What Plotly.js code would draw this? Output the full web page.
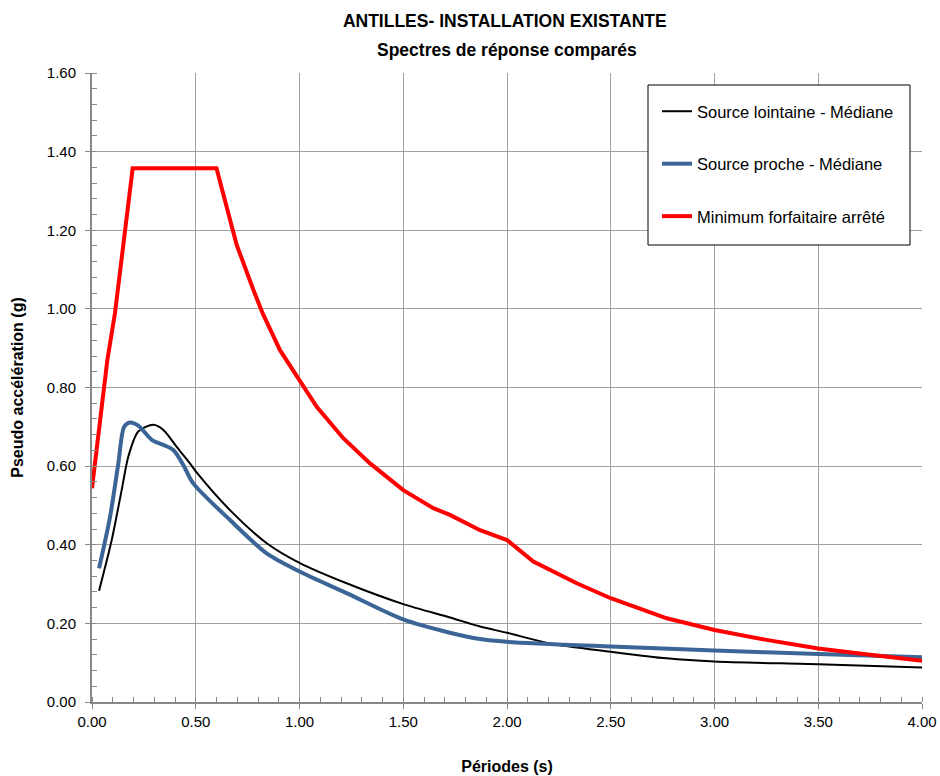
<!DOCTYPE html>
<html>
<head>
<meta charset="utf-8">
<script src="https://cdn.plot.ly/plotly-3.0.1.min.js"></script>
<style>html,body{margin:0;padding:0;background:#fff;}#chart{width:940px;height:776px;}</style>
</head>
<body>
<div id="chart"></div>
<script>
// Source lointaine - Médiane
const farT = [0.034,0.095,0.143,0.175,0.223,0.296,0.344,0.408,0.472,0.510,0.665,0.842,1.0,1.227,1.5,1.725,1.87,2.0,2.207,2.5,2.77,3.0,3.5,4.0];
const farSa = [0.283,0.412,0.539,0.624,0.688,0.705,0.692,0.649,0.607,0.580,0.488,0.404,0.354,0.302,0.249,0.215,0.192,0.176,0.149,0.128,0.111,0.103,0.096,0.088];
// Source proche - Médiane
const nearT = [0.034,0.087,0.127,0.155,0.183,0.223,0.288,0.344,0.392,0.44,0.488,0.665,0.842,1.0,1.227,1.5,1.725,1.87,2.0,2.5,3.0,3.5,4.0];
const nearSa = [0.340,0.471,0.607,0.700,0.711,0.703,0.667,0.654,0.641,0.603,0.556,0.463,0.378,0.332,0.277,0.210,0.176,0.160,0.153,0.141,0.131,0.122,0.114];
// Minimum forfaitaire arrêté
const minT = [0.0,0.03,0.074,0.111,0.196,0.6,0.633,0.697,0.778,0.822,0.906,1.0,1.083,1.211,1.34,1.5,1.645,1.725,1.87,2.0,2.127,2.336,2.5,2.77,3.0,3.25,3.5,3.75,4.0];
const minSa = [0.544,0.683,0.870,0.990,1.358,1.358,1.294,1.163,1.048,0.989,0.895,0.820,0.751,0.671,0.607,0.539,0.493,0.476,0.437,0.412,0.357,0.302,0.264,0.213,0.183,0.158,0.136,0.120,0.105];

const names = ["Source lointaine - Médiane","Source proche - Médiane","Minimum forfaitaire arrêté"];
const titleLines = ["ANTILLES- INSTALLATION EXISTANTE","Spectres de réponse comparés"];
const FONT = "Liberation Sans, Arial, sans-serif";

const traces = [
  {x: farT, y: farSa, name: names[0], legendgroup:"a", mode:"lines", line:{color:"#000000", width:2, shape:"spline", smoothing:0.8}},
  {x: nearT, y: nearSa, name: names[1], legendgroup:"b", mode:"lines", line:{color:"#3A6596", width:4, shape:"spline", smoothing:0.8}},
  {x: minT, y: minSa, name: names[2], legendgroup:"c", mode:"lines", line:{color:"#FF0000", width:4}}
];

const axisCommon = {
  showline:true, linecolor:"#888888", linewidth:2, mirror:false,
  showgrid:true, gridcolor:"#A0A0A0", gridwidth:1,
  zeroline:false, ticks:"outside", ticklen:5, tickcolor:"#888888",
  tickformat:".2f", tickfont:{family:FONT, size:15, color:"#000"}
};

const layout = {
  width:940, height:776,
  margin:{l:92, r:18, t:73, b:74},
  paper_bgcolor:"#fff", plot_bgcolor:"#fff",
  showlegend:true,
  title:{text:"<b>"+titleLines[0]+"</b>", x:0.537, xanchor:"center", y:0.973, yanchor:"middle", font:{family:FONT, size:17.5, color:"#000"}},
  annotations:[{text:"<b>"+titleLines[1]+"</b>", xref:"paper", yref:"paper", x:0.5, y:(776-50-74)/629, xanchor:"center", yanchor:"middle", showarrow:false, font:{family:FONT, size:17.5, color:"#000"}}],
  shapes:[{type:"rect", xref:"paper", yref:"paper", x0:(648-92)/830, x1:(910-92)/830, y0:(702-245)/629, y1:(702-85)/629, line:{color:"#000", width:1}, fillcolor:"#fff", layer:"above"}],
  xaxis:Object.assign({}, axisCommon, {range:[0,4], dtick:0.5, tick0:0,
    minor:{ticks:"inside", dtick:0.1, ticklen:5, tickcolor:"#888888", showgrid:false},
    title:{text:"<b>Périodes (s)</b>", standoff:32, font:{family:FONT, size:16, color:"#000"}}}),
  yaxis:Object.assign({}, axisCommon, {range:[0,1.6], dtick:0.2, tick0:0, ticklabelstandoff:6,
    minor:{ticks:"inside", dtick:0.04, ticklen:5, tickcolor:"#888888", showgrid:false},
    title:{text:"<b>Pseudo accélération (g)</b>", standoff:19, font:{family:FONT, size:16, color:"#000"}}}),
  legend:{x:(657-92)/830, y:(702-94)/629, xanchor:"left", yanchor:"top", bgcolor:"rgba(0,0,0,0)", borderwidth:0,
    font:{family:FONT, size:16.5, color:"#000"}, tracegroupgap:28, traceorder:"grouped"}
};

Plotly.newPlot("chart", traces, layout, {displayModeBar:false, staticPlot:true});
</script>
</body>
</html>
